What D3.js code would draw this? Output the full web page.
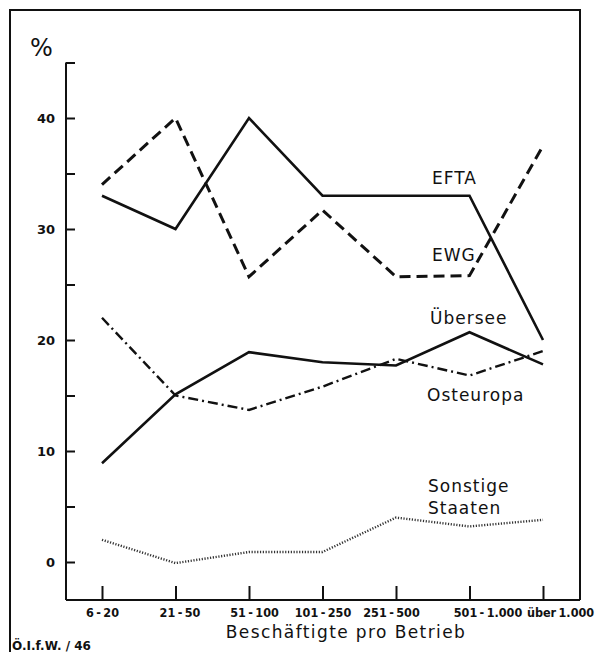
<!DOCTYPE html>
<html>
<head>
<meta charset="utf-8">
<script src="https://cdn.jsdelivr.net/npm/d3@7"></script>
<style>
  body { margin: 0; background: #fff; }
  text { fill: #111; }
</style>
</head>
<body>
<script>
var width = 595, height = 652

// values (percent)
var categories = ["6 - 20", "21 - 50", "51 - 100", "101 - 250", "251 - 500", "501 - 1.000", "über 1.000"]
var efta      = [33, 30, 40, 33, 33, 33, 20]
var ewg       = [34, 40, 25.7, 31.7, 25.7, 25.8, 37.5]
var uebersee  = [8.9, 15.1, 18.9, 18, 17.7, 20.7, 17.8]
var osteuropa = [22, 15, 13.7, 15.8, 18.3, 16.8, 19]
var sonstige  = [2, -0.1, 0.9, 0.9, 4, 3.2, 3.8]
var yTicks = [0, 5, 10, 15, 20, 25, 30, 35, 40, 45]
var yLabels = [0, 10, 20, 30, 40]

var svg = d3.select("body").append("svg")
    .attr("width", width).attr("height", height)

var x = d3.scalePoint().domain(categories).range([102, 543])
var y = d3.scaleLinear().domain([0, 40]).range([562, 118])
var axisX = 66, axisY = 600

// frame
svg.append("path")
    .attr("d", "M10,652 V10 H580 V" + axisY)
    .attr("fill", "none").attr("stroke", "#111").attr("stroke-width", 2)

// y axis, ticks pointing inwards
var yAxis = d3.axisLeft(y)
    .tickValues(yTicks)
    .tickSizeInner(-9).tickSizeOuter(0).tickPadding(11)
    .tickFormat(function(d) { return yLabels.indexOf(d) >= 0 ? d : "" })
var gy = svg.append("g").attr("transform", "translate(" + axisX + ",0)").call(yAxis)
gy.select(".domain").remove()
gy.selectAll("line").attr("stroke", "#111").attr("stroke-width", 2)
gy.selectAll("text")
    .style("font-family", "DejaVu Sans").style("font-weight", "bold").style("font-size", "13px")
svg.append("line")
    .attr("x1", axisX).attr("x2", axisX).attr("y1", y(45)).attr("y2", axisY)
    .attr("stroke", "#111").attr("stroke-width", 2)

// x axis
var labelShift = [0, 4, 5, 0, -5, 18, 17]
var xAxis = d3.axisBottom(x).tickSizeInner(-14).tickSizeOuter(0).tickPadding(8)
var gx = svg.append("g").attr("transform", "translate(0," + axisY + ")").call(xAxis)
gx.select(".domain").remove()
gx.selectAll("line").attr("stroke", "#111").attr("stroke-width", 2)
gx.selectAll("text")
    .attr("dx", function(d, i) { return labelShift[i] })
    .style("font-family", "DejaVu Sans Condensed, DejaVu Sans")
    .style("font-weight", "bold").style("font-size", "12.5px")
    .style("word-spacing", "-1.5px")
svg.append("line")
    .attr("x1", axisX).attr("x2", 580).attr("y1", axisY).attr("y2", axisY)
    .attr("stroke", "#111").attr("stroke-width", 2)

// series
var line = d3.line()
    .x(function(d, i) { return x(categories[i]) })
    .y(function(d) { return y(d) })

var series = [
    {values: efta, dash: null, w: 2.6, color: "#111"},
    {values: ewg, dash: "11,6", w: 3, color: "#111"},
    {values: uebersee, dash: null, w: 2.6, color: "#111"},
    {values: osteuropa, dash: "10,4,2,4", w: 2.4, color: "#111"},
    {values: sonstige, dash: "1.2,1.6", w: 2.4, color: "#333"}
]
svg.append("g").selectAll("path").data(series).enter().append("path")
    .attr("d", function(s) { return line(s.values) })
    .attr("fill", "none")
    .attr("stroke", function(s) { return s.color })
    .attr("stroke-width", function(s) { return s.w })
    .attr("stroke-dasharray", function(s) { return s.dash })
    .attr("stroke-linejoin", "miter")

// labels
var labels = [
    {t: "EFTA", x: 432, y: 184},
    {t: "EWG", x: 432, y: 261},
    {t: "Übersee", x: 430, y: 324},
    {t: "Osteuropa", x: 427, y: 401},
    {t: "Sonstige", x: 428, y: 492},
    {t: "Staaten", x: 428, y: 514}
]
svg.append("g").selectAll("text").data(labels).enter().append("text")
    .attr("x", function(d) { return d.x }).attr("y", function(d) { return d.y })
    .text(function(d) { return d.t })
    .style("font-family", "DejaVu Sans").style("font-size", "17px")
    .style("letter-spacing", "1px")

svg.append("text").attr("x", 30).attr("y", 56).text("%")
    .style("font-family", "DejaVu Sans").style("font-size", "24px")

svg.append("text").attr("x", 346).attr("y", 638)
    .attr("text-anchor", "middle")
    .text("Beschäftigte pro Betrieb")
    .style("font-family", "DejaVu Sans").style("font-size", "17px")
    .style("letter-spacing", "1.4px")

svg.append("text").attr("x", 12).attr("y", 650)
    .text("Ö.I.f.W. / 46")
    .style("font-family", "DejaVu Sans").style("font-weight", "bold").style("font-size", "12px")
</script>
</body>
</html>
